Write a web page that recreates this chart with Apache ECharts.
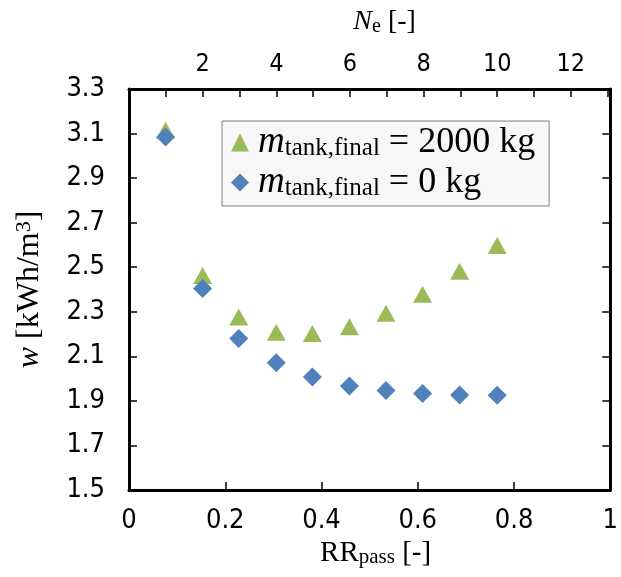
<!DOCTYPE html>
<html>
<head>
<meta charset="utf-8">
<script src="https://cdn.jsdelivr.net/npm/echarts@6/dist/echarts.min.js"></script>
<style>
  html, body { margin: 0; padding: 0; background: #ffffff; }
  #chart { width: 621px; height: 577px; }
</style>
</head>
<body>
<div id="chart"></div>
<script>
// ---- data ----
var rrPass = [0.076, 0.153, 0.228, 0.306, 0.381, 0.458, 0.534, 0.610, 0.687, 0.765];
var wTank2000 = [3.115, 2.463, 2.276, 2.208, 2.202, 2.233, 2.293, 2.379, 2.482, 2.598];
var wTank0 = [3.085, 2.405, 2.180, 2.071, 2.007, 1.967, 1.947, 1.933, 1.926, 1.925];
var seriesNames = ['2000', '0'];
var neMax = 13.07;

var tickFont = "'DejaVu Sans Condensed', 'DejaVu Sans', sans-serif";
var serif = "'Liberation Serif', 'DejaVu Serif', serif";

function pairs(xs, ys) {
  var out = [];
  for (var i = 0; i < xs.length; i++) out.push([xs[i], ys[i]]);
  return out;
}

var chart = echarts.init(document.getElementById('chart'), null, { renderer: 'canvas' });

var axisLineStyle = { color: '#000', width: 3 };
var tickStyle = { color: '#000', width: 1.5 };

var option = {
  animation: false,
  backgroundColor: '#ffffff',
  grid: { left: 129, right: 9, top: 89, bottom: 87, containLabel: false },
  legend: {
    orient: 'vertical',
    left: 222,
    top: 121,
    padding: [3, 14, 5, 9],
    itemGap: 3,
    itemWidth: 18,
    itemHeight: 18,
    backgroundColor: '#f7f7f7',
    borderColor: '#7f7f7f',
    borderWidth: 1,
    borderRadius: 0,
    data: [
      { name: seriesNames[0], icon: 'triangle', itemStyle: { color: '#9bbb59' } },
      { name: seriesNames[1], icon: 'diamond', itemStyle: { color: '#4f81bd' } }
    ],
    formatter: function (name) {
      return '{i|m}{s|tank,final}{t| = ' + name + ' kg}';
    },
    textStyle: {
      padding: [0, 0, 0, 4],
      rich: {
        i: { fontFamily: serif, fontStyle: 'italic', fontSize: 37, lineHeight: 37, color: '#000' },
        s: { fontFamily: serif, fontSize: 25, lineHeight: 22, verticalAlign: 'bottom', color: '#000' },
        t: { fontFamily: serif, fontSize: 36, lineHeight: 37, color: '#000' }
      }
    }
  },
  xAxis: [
    {
      type: 'value', position: 'bottom', min: 0, max: 1, interval: 0.2,
      axisLine: { show: true, onZero: false, lineStyle: axisLineStyle },
      axisTick: { show: true, inside: true, length: 8, lineStyle: tickStyle },
      splitLine: { show: false },
      axisLabel: { color: '#000', fontFamily: tickFont, fontSize: 27, margin: 17 },
      name: '{r|RR}{s|pass}{r| [-]}',
      nameLocation: 'middle',
      nameGap: 46,
      nameTextStyle: {
        padding: [0, 0, 0, 12],
        rich: {
          r: { fontFamily: serif, fontSize: 29, lineHeight: 30, color: '#000' },
          s: { fontFamily: serif, fontSize: 21, lineHeight: 18, verticalAlign: 'bottom', color: '#000' }
        }
      }
    },
    {
      type: 'value', position: 'top', min: 0, max: neMax, interval: 1,
      axisLine: { show: true, onZero: false, lineStyle: axisLineStyle },
      axisTick: { show: true, inside: true, length: 8, lineStyle: tickStyle },
      splitLine: { show: false },
      axisLabel: {
        color: '#000', fontFamily: tickFont, fontSize: 25, margin: 12,
        showMinLabel: false, showMaxLabel: false,
        formatter: function (v) { return (v > 0 && Math.abs(v - Math.round(v)) < 1e-6 && Math.round(v) % 2 === 0) ? String(Math.round(v)) : ''; }
      },
      name: '{i|N}{s|e}{r| [-]}',
      nameLocation: 'middle',
      nameGap: 52,
      nameTextStyle: {
        padding: [0, 0, 0, 30],
        rich: {
          i: { fontFamily: serif, fontStyle: 'italic', fontSize: 28, lineHeight: 30, color: '#000' },
          s: { fontFamily: serif, fontSize: 20, lineHeight: 17, verticalAlign: 'bottom', color: '#000' },
          r: { fontFamily: serif, fontSize: 28, lineHeight: 30, color: '#000' }
        }
      }
    }
  ],
  yAxis: [
    {
      type: 'value', position: 'left', min: 1.5, max: 3.3, interval: 0.2,
      axisLine: { show: true, onZero: false, lineStyle: axisLineStyle },
      axisTick: { show: true, inside: true, length: 8, lineStyle: tickStyle },
      splitLine: { show: false },
      axisLabel: {
        color: '#000', fontFamily: tickFont, fontSize: 27, margin: 24,
        formatter: function (v) { return v.toFixed(1); }
      },
      name: '{i|w}{r| [kWh/m}{p|3}{r|]}',
      nameLocation: 'middle',
      nameGap: 82,
      nameTextStyle: {
        rich: {
          i: { fontFamily: serif, fontStyle: 'italic', fontSize: 32, lineHeight: 34, color: '#000' },
          r: { fontFamily: serif, fontSize: 32, lineHeight: 34, color: '#000' },
          p: { fontFamily: serif, fontSize: 22, lineHeight: 22, verticalAlign: 'top', color: '#000' }
        }
      }
    },
    {
      type: 'value', position: 'right', min: 1.5, max: 3.3, interval: 0.2,
      axisLine: { show: true, onZero: false, lineStyle: axisLineStyle },
      axisTick: { show: true, inside: true, length: 8, lineStyle: tickStyle },
      splitLine: { show: false },
      axisLabel: { show: false }
    }
  ],
  series: [
    {
      name: seriesNames[0], type: 'scatter', xAxisIndex: 0, yAxisIndex: 0,
      symbol: 'triangle', symbolSize: [19, 17],
      itemStyle: { color: '#9bbb59', opacity: 1 },
      data: pairs(rrPass, wTank2000), z: 2
    },
    {
      name: seriesNames[1], type: 'scatter', xAxisIndex: 0, yAxisIndex: 0,
      symbol: 'diamond', symbolSize: 19,
      itemStyle: { color: '#4f81bd', opacity: 1 },
      data: pairs(rrPass, wTank0), z: 3
    }
  ]
};

chart.setOption(option);
</script>
</body>
</html>
